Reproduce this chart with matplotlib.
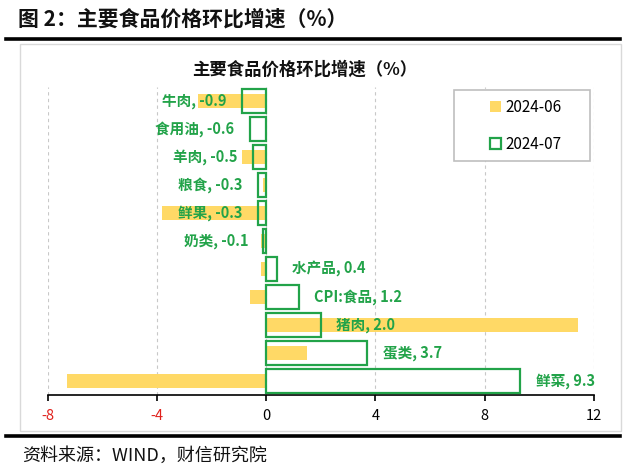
import matplotlib
matplotlib.use("Agg")
import matplotlib.pyplot as plt
from matplotlib.patches import Patch, Rectangle
from matplotlib.lines import Line2D

plt.rcParams['font.family'] = ['Noto Sans CJK SC', 'DejaVu Sans']

categories = ['牛肉', '食用油', '羊肉', '粮食', '鲜果', '奶类', '水产品', 'CPI:食品', '猪肉', '蛋类', '鲜菜']
jun = [-2.5, 0.0, -0.9, -0.1, -3.8, -0.2, -0.2, -0.6, 11.4, 1.5, -7.3]
jul = [-0.9, -0.6, -0.5, -0.3, -0.3, -0.1, 0.4, 1.2, 2.0, 3.7, 9.3]
xticks = [-8, -4, 0, 4, 8, 12]
series_names = ['2024-06', '2024-07']

YELLOW = '#FFD966'
GREEN = '#22A349'
RED = '#E0201B'

fig = plt.figure(figsize=(6.4, 4.72), dpi=100)

# header
fig.text(18/640, 1-19/472, '图 2：主要食品价格环比增速（%）', fontsize=15, fontweight='bold',
         ha='left', va='center', color='#111111')
fig.add_artist(Line2D([6/640, 620/640], [1-39/472, 1-39/472], color='black', lw=2.6))
fig.add_artist(Line2D([6/640, 620/640], [1-436/472, 1-436/472], color='black', lw=2.6))
fig.text(22/640, 1-456/472, '资料来源：WIND，财信研究院', fontsize=13, ha='left', va='center',
         color='#111111', style='italic')

# chart frame
fig.add_artist(Rectangle((20/640, 1-431/472), 601/640, 387/472, transform=fig.transFigure,
                         fill=False, edgecolor='#D9D9D9', lw=1))
fig.text(305/640, 1-70/472, '主要食品价格环比增速（%）', fontsize=12.5, fontweight='bold',
         ha='center', va='center', color='#111111')

ax = fig.add_axes([47.7/640, 1-395/472, (594-47.7)/640, (395-87)/472])
y = list(range(len(categories)))
ax.barh(y, jun, height=0.5, color=YELLOW, zorder=2, label=series_names[0])
ax.barh(y, jul, height=0.85, facecolor='none', edgecolor=GREEN, linewidth=1.6, zorder=3,
        label=series_names[1])

for i, (c, v) in enumerate(zip(categories, jul)):
    off = 11 if v >= 0 else -11
    ax.annotate(f'{c}, {v:.1f}', xy=(v, i), xytext=(off, 0), textcoords='offset points',
                ha='left' if v >= 0 else 'right', va='center', color=GREEN,
                fontsize=10.5, fontweight='bold', zorder=5)

ax.set_xlim(-8, 12)
ax.set_ylim(len(categories)-0.5, -0.5)
ax.set_xticks(xticks)
ax.set_xticklabels([str(t) for t in xticks], fontsize=10.5)
for lbl, t in zip(ax.get_xticklabels(), xticks):
    lbl.set_color(RED if t < 0 else 'black')
ax.set_yticks([])
for s in ['top', 'right', 'left']:
    ax.spines[s].set_visible(False)
ax.spines['bottom'].set_linewidth(1.2)
ax.tick_params(axis='x', direction='out', length=4, width=1.2, pad=6)
ax.grid(axis='x', color='#C8C8C8', linestyle=(0, (3, 3)), linewidth=0.8, zorder=0)
ax.set_axisbelow(True)

# legend frame + legend
fig.add_artist(Rectangle((454/640, 1-161/472), 136/640, 71/472, transform=fig.transFigure,
                         facecolor='white', edgecolor='#BFBFBF', lw=1.2, zorder=4))
handles = [Patch(facecolor=YELLOW, edgecolor='none'),
           Patch(facecolor='white', edgecolor=GREEN, linewidth=1.6)]
leg = fig.legend(handles, series_names, loc='center left',
                 bbox_to_anchor=(490/640, 1-126/472), fontsize=11,
                 handlelength=0.7, handleheight=0.7, handletextpad=0.3,
                 labelspacing=1.3, borderpad=0, borderaxespad=0, frameon=False)
leg.set_zorder(5)

fig.savefig('out.png', dpi=100)
